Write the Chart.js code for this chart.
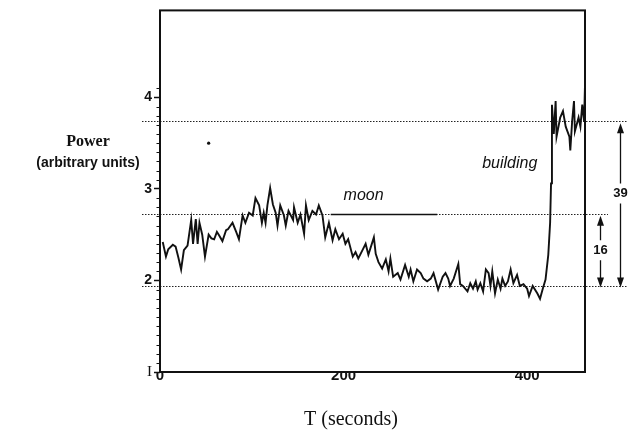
<!DOCTYPE html>
<html><head><meta charset="utf-8">
<script src="https://cdn.jsdelivr.net/npm/chart.js@4/dist/chart.umd.min.js"></script>
<style>html,body{margin:0;padding:0;background:#fff}#wrap{width:628px;height:433px}</style>
</head><body><div id="wrap"><canvas id="c" width="628" height="433"></canvas></div>
<script>
const times=[3,6.5,9,14,17,20,23,26,30,34,36,39,41,43,46,49,53,56,59,62,64,68,72,74,79,83,86,90,93,97,101,104,108,111,113,115,117,120,123,126,128,131,135,137,140,145,146,150,153,157,159,162,166,170,173,177,180,184,188,191,195,199,202,205,210,213,216,221,224,227,233,235,238,242,246,249,251,254,259,262,267,271,273,276,280,284,287,291,295,298,303,308,311,314,316,320,325,327,330,335,338,341,344,346,349,352,355,358,360,362,365,368,371,373,376,379,382,385,389,392,396,400,402,406,411,414,417,420,423,425,426,427,429,431,432,436,439,442,446,447,449,451,452,456,458,460,462,463];
const power=[2.42,2.26,2.34,2.39,2.37,2.25,2.12,2.33,2.38,2.66,2.40,2.67,2.40,2.63,2.50,2.26,2.50,2.46,2.45,2.53,2.50,2.43,2.55,2.56,2.63,2.53,2.45,2.71,2.63,2.74,2.71,2.90,2.82,2.63,2.74,2.63,2.82,3.01,2.83,2.74,2.60,2.82,2.71,2.60,2.76,2.66,2.80,2.63,2.72,2.51,2.82,2.66,2.76,2.72,2.82,2.71,2.47,2.63,2.44,2.56,2.45,2.51,2.40,2.45,2.26,2.31,2.24,2.34,2.40,2.28,2.47,2.29,2.20,2.13,2.23,2.10,2.24,2.04,2.08,2.01,2.17,2.04,2.12,1.99,2.12,2.08,2.02,1.99,2.02,2.08,1.90,2.04,2.08,2.02,1.94,2.02,2.18,1.96,1.94,1.88,1.97,1.91,1.99,1.90,1.97,1.88,2.12,2.08,1.94,2.10,1.86,2.01,1.91,2.02,1.94,1.99,2.12,1.97,2.06,1.94,1.96,1.91,1.83,1.94,1.86,1.80,1.91,2.01,2.28,2.63,3.06,3.92,3.60,3.96,3.57,3.78,3.85,3.68,3.57,3.42,3.74,3.96,3.63,3.78,3.68,3.92,3.74,4.14];
const xTickValues=[0,200,400];
const xTickLabels=['0','200','400'];
const yTickValues=[1,2,3,4];
const yTickLabels=['I','2','3','4'];
const levelValues=[3.74,2.73,1.935];
const moonSegment=[186,302];
const moonLevel=2.73;
const strayDot=[{x:53,y:3.5}];
const annotations=[{text:'moon',x:200,y:2.88},{text:'building',x:351,y:3.23}];
const arrows=[{label:'16',x:479,from:2.73,to:1.935,labelY:2.33},{label:'39',x:501,from:3.74,to:1.935,labelY:2.95}];

function head(ctx,px,tip,dir){
  ctx.beginPath();ctx.moveTo(px,tip);ctx.lineTo(px-3.5,tip+dir*10);ctx.lineTo(px+3.5,tip+dir*10);ctx.closePath();ctx.fill();
}
const deco={id:'deco',
  beforeDatasetsDraw(chart){
    const {ctx,chartArea:a,scales:{x,y}}=chart;
    ctx.save();
    ctx.strokeStyle='#222';ctx.lineWidth=1;ctx.setLineDash([1.5,1.5]);
    levelValues.forEach((v,i)=>{const py=Math.round(y.getPixelForValue(v))+0.5;ctx.beginPath();ctx.moveTo(a.left-18,py);ctx.lineTo(i===1?a.right+23:chart.width,py);ctx.stroke();});
    ctx.setLineDash([]);
    ctx.lineWidth=1.5;ctx.strokeStyle='#111';
    const my=Math.round(y.getPixelForValue(moonLevel))+0.5;
    ctx.beginPath();ctx.moveTo(x.getPixelForValue(moonSegment[0]),my);ctx.lineTo(x.getPixelForValue(moonSegment[1]),my);ctx.stroke();
    ctx.restore();
  },
  afterDatasetsDraw(chart){
    const {ctx,chartArea:a}=chart;
    ctx.save();ctx.strokeStyle='#111';ctx.lineWidth=2;
    ctx.strokeRect(a.left,a.top,a.right-a.left,a.bottom-a.top);
    ctx.restore();
  },
  afterDraw(chart){
    const {ctx,chartArea:a,scales:{x,y}}=chart;
    ctx.save();
    ctx.strokeStyle='#111';ctx.fillStyle='#111';
    ctx.lineWidth=1;
    for(let k=10;k<=41;k++){if(k%10===0)continue;const py=Math.round(y.getPixelForValue(k/10))+0.5;ctx.beginPath();ctx.moveTo(a.left-3.5,py);ctx.lineTo(a.left,py);ctx.stroke();}
    ctx.font='italic 16px "Liberation Sans"';ctx.textAlign='left';ctx.textBaseline='alphabetic';
    annotations.forEach(n=>ctx.fillText(n.text,x.getPixelForValue(n.x),y.getPixelForValue(n.y)));
    ctx.font='bold 13px "Liberation Sans"';ctx.textAlign='center';ctx.textBaseline='middle';
    ctx.lineWidth=1.3;
    arrows.forEach(r=>{
      const px=Math.round(x.getPixelForValue(r.x))+0.5;
      const t1=y.getPixelForValue(r.from)+2, t2=y.getPixelForValue(r.to)+1, ly=y.getPixelForValue(r.labelY);
      ctx.beginPath();ctx.moveTo(px,t1+8);ctx.lineTo(px,ly-10);ctx.moveTo(px,ly+10);ctx.lineTo(px,t2-8);ctx.stroke();
      head(ctx,px,t1,1);head(ctx,px,t2,-1);
      ctx.fillText(r.label,px,ly);
    });
    ctx.textAlign='center';ctx.textBaseline='middle';
    ctx.font='bold 16px "Liberation Serif"';ctx.fillText('Power',88,142);
    ctx.font='bold 14px "Liberation Sans"';ctx.fillText('(arbitrary units)',88,163);
    ctx.font='20px "Liberation Serif"';ctx.fillText('T (seconds)',351,420);
    ctx.restore();
  }
};
new Chart(document.getElementById('c'),{
  type:'line',
  data:{datasets:[
    {data:times.map((t,i)=>({x:t,y:power[i]})),borderColor:'#111',borderWidth:1.9,pointRadius:0,tension:0,fill:false},
    {type:'scatter',data:strayDot,pointRadius:1.6,pointBackgroundColor:'#111',pointBorderWidth:0}
  ]},
  options:{
    responsive:false,animation:false,
    layout:{padding:{top:5,right:43,left:0,bottom:0}},
    plugins:{legend:{display:false},tooltip:{enabled:false}},
    scales:{
      x:{type:'linear',min:0,max:463,
        afterBuildTicks:ax=>{ax.ticks=xTickValues.map(v=>({value:v}));},
        afterFit:ax=>{ax.height=61;},
        grid:{display:true,drawOnChartArea:false,drawTicks:false},
        border:{display:false},
        ticks:{padding:-5,maxRotation:0,autoSkip:false,color:'#111',font:{family:'Liberation Sans',size:15,weight:'bold'},
          callback:v=>{const i=xTickValues.indexOf(v);return i>=0?xTickLabels[i]:'';}}},
      y:{type:'linear',min:1,max:4.95,
        afterBuildTicks:ax=>{ax.ticks=yTickValues.map(v=>({value:v}));},
        afterFit:ax=>{ax.width=160;},
        grid:{drawOnChartArea:false,drawTicks:true,tickLength:6,tickWidth:1.5,tickColor:'#111'},
        border:{display:false},
        ticks:{padding:2,color:'#111',
          font:c=>(c.tick&&c.tick.value===1)?{family:'Liberation Serif',size:15}:{family:'Liberation Sans',size:14,weight:'bold'},
          callback:v=>{const i=yTickValues.indexOf(v);return i>=0?yTickLabels[i]:'';}}}
    }
  },
  plugins:[deco]
});
</script></body></html>
